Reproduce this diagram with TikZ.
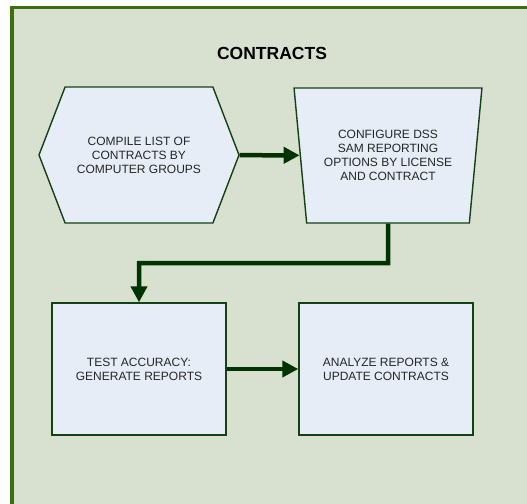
\documentclass[tikz,border=0pt]{standalone}
\usepackage{fontspec}
\setmainfont{Liberation Sans}
\usepackage{xcolor}
\usetikzlibrary{arrows.meta, shapes.geometric, shapes.symbols, positioning}

\definecolor{framegreen}{HTML}{3A710C}
\definecolor{panelfill}{HTML}{D8E1D0}
\definecolor{boxfill}{HTML}{E6EDF7}
\definecolor{boxline}{HTML}{124212}
\definecolor{flowgreen}{HTML}{003300}
\definecolor{labelgray}{HTML}{262626}

\tikzset{
    stagebox/.style={draw=boxline, line width=1.4pt, fill=boxfill, inner sep=0pt,
        align=center, text=labelgray, font=\fontsize{12pt}{14pt}\selectfont},
    flow/.style={draw=flowgreen, line width=4.5pt,
        -{Triangle[length=16pt, width=16pt]}}
}

\begin{document}
\begin{tikzpicture}[x=1pt, y=-1pt]
    \clip (0, 0) rectangle (527, 503);
    \useasboundingbox (0, 0) rectangle (527, 503);

    \draw[framegreen, line width=3.5pt, fill=panelfill] (12, 7.5) rectangle (560, 540);

    \node[font=\bfseries\fontsize{17.5pt}{20pt}\selectfont, text=black] (title) at (272, 53) {CONTRACTS};

    \node[stagebox, shape=signal, signal from=nowhere, signal to=west and east, signal pointer angle=138,
        minimum width=200pt, minimum height=136pt] (compile) at (139, 155)
        {COMPILE LIST OF\\CONTRACTS BY\\COMPUTER GROUPS};
    \node[stagebox, trapezium, shape border rotate=180, trapezium angle=78.9,
        trapezium stretches=true, minimum width=188pt, minimum height=135pt] (configure) at (388, 155.5)
        {CONFIGURE DSS\\SAM REPORTING\\OPTIONS BY LICENSE\\AND CONTRACT};
    \node[stagebox, rectangle, minimum width=174pt, minimum height=132pt] (test) at (139, 369)
        {TEST ACCURACY:\\GENERATE REPORTS};
    \node[stagebox, rectangle, minimum width=174pt, minimum height=132pt] (analyze) at (386, 369)
        {ANALYZE REPORTS \&\\UPDATE CONTRACTS};

    \coordinate (bend) at (388, 263);

    \draw[flow] (compile) -- (configure);
    \draw[flow] (configure.south) -- (bend) -| (test.north);
    \draw[flow] (test) -- (analyze);
\end{tikzpicture}
\end{document}
